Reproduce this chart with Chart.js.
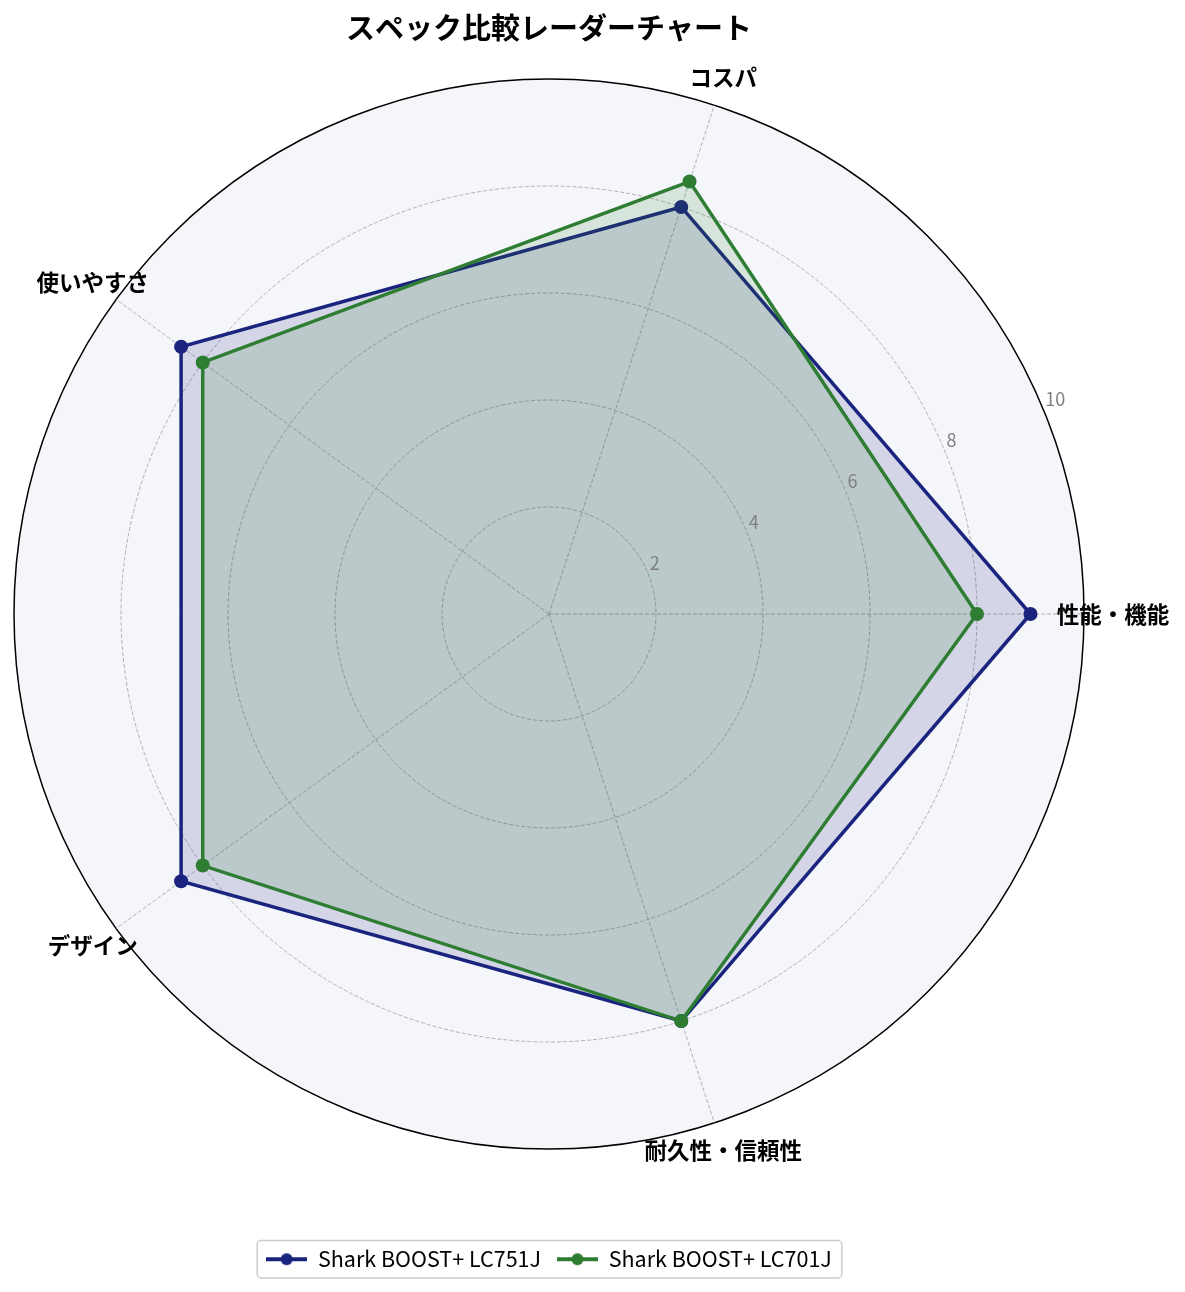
<!DOCTYPE html>
<html lang="ja">
<head>
<meta charset="utf-8">
<title>スペック比較レーダーチャート</title>
<script src="https://cdn.jsdelivr.net/npm/chart.js@4.4.0/dist/chart.umd.min.js"></script>
<style>
  html, body { margin: 0; padding: 0; background: #fff; }
  #wrap { width: 1185px; height: 1292px; position: relative; }
</style>
</head>
<body>
<div id="wrap"><canvas id="radarChart"></canvas></div>
<script>
// data (same order as the original chart: counter-clockwise from the right)
var categories = ['性能・機能', 'コスパ', '使いやすさ', 'デザイン', '耐久性・信頼性'];
var lc751j = [9, 8, 8.5, 8.5, 8];
var lc701j = [8, 8.5, 8, 8, 8];
var tickValues = [2, 4, 6, 8, 10];
var seriesNames = ['Shark BOOST+ LC751J', 'Shark BOOST+ LC701J'];
var seriesColors = ['#1a237e', '#2e7d32'];
var seriesFills = ['rgba(26, 35, 126, 0.15)', 'rgba(46, 125, 50, 0.15)'];

var FONT = '"Noto Sans CJK JP", "Noto Sans", sans-serif';

// Chart.js walks the axes clockwise, so flip everything after the first one
function ccw(arr) {
    return [arr[0]].concat(arr.slice(1).reverse());
}

// legend handle: a line with a dot in the middle
function legendIcon(color) {
    var c = document.createElement('canvas');
    c.width = 41;
    c.height = 14;
    var g = c.getContext('2d');
    g.strokeStyle = color;
    g.lineWidth = 4;
    g.beginPath();
    g.moveTo(0, 7);
    g.lineTo(41, 7);
    g.stroke();
    g.fillStyle = color;
    g.beginPath();
    g.arc(20.5, 7, 6, 0, Math.PI * 2);
    g.fill();
    return c;
}
var icons = [legendIcon(seriesColors[0]), legendIcon(seriesColors[1])];

// light fill inside the outer circle
var polarBackground = {
    id: 'polarBackground',
    beforeDraw: function (chart) {
        var r = chart.scales.r;
        var ctx = chart.ctx;
        ctx.save();
        ctx.fillStyle = '#f5f6fa';
        ctx.beginPath();
        ctx.arc(r.xCenter, r.yCenter, r.drawingArea, 0, Math.PI * 2);
        ctx.fill();
        ctx.restore();
    }
};

// tick labels at 22.5°, category labels centred outside the circle, legend frame
var radarText = {
    id: 'radarText',
    afterDraw: function (chart) {
        var r = chart.scales.r;
        var ctx = chart.ctx;
        ctx.save();

        ctx.font = '18px ' + FONT;
        ctx.fillStyle = '#808080';
        ctx.textAlign = 'left';
        ctx.textBaseline = 'alphabetic';
        var a = 22.5 * Math.PI / 180;
        tickValues.forEach(function (v) {
            var d = r.getDistanceFromCenterForValue(v);
            ctx.fillText(String(v), r.xCenter + d * Math.cos(a) + 2, r.yCenter - d * Math.sin(a) - 3);
        });

        ctx.font = 'bold 22.5px ' + FONT;
        ctx.fillStyle = '#000';
        ctx.textAlign = 'center';
        ctx.textBaseline = 'middle';
        chart.data.labels.forEach(function (label, i) {
            var p = r.getPointPosition(i, r.drawingArea + 29);
            ctx.fillText(label, p.x, p.y);
        });

        var boxes = chart.legend.legendHitBoxes;
        if (boxes && boxes.length) {
            var left = Infinity, right = -Infinity, top = Infinity, bottom = -Infinity;
            boxes.forEach(function (b) {
                left = Math.min(left, b.left);
                right = Math.max(right, b.left + b.width);
                top = Math.min(top, b.top);
                bottom = Math.max(bottom, b.top + b.height);
            });
            ctx.strokeStyle = '#cccccc';
            ctx.lineWidth = 1.5;
            ctx.beginPath();
            ctx.roundRect(left - 9, top - 8, right - left + 19, bottom - top + 16, 4);
            ctx.stroke();
        }
        ctx.restore();
    }
};

var config = {
    type: 'radar',
    data: {
        labels: ccw(categories),
        datasets: [
            {
                label: seriesNames[0],
                data: ccw(lc751j),
                borderColor: seriesColors[0],
                backgroundColor: seriesFills[0],
                borderWidth: 3.5,
                pointRadius: 7,
                pointBackgroundColor: seriesColors[0],
                pointBorderColor: seriesColors[0],
                pointBorderWidth: 0,
                fill: true,
                order: 1
            },
            {
                label: seriesNames[1],
                data: ccw(lc701j),
                borderColor: seriesColors[1],
                backgroundColor: seriesFills[1],
                borderWidth: 3.5,
                pointRadius: 7,
                pointBackgroundColor: seriesColors[1],
                pointBorderColor: seriesColors[1],
                pointBorderWidth: 0,
                fill: true,
                order: 0
            }
        ]
    },
    options: {
        responsive: true,
        maintainAspectRatio: false,
        animation: false,
        layout: { padding: { left: 14, right: 101, top: 0, bottom: 12 } },
        scales: {
            r: {
                min: 0,
                max: 10,
                startAngle: 90,
                ticks: { stepSize: 2, display: false },
                pointLabels: { display: false },
                grid: {
                    circular: true,
                    color: function (c) { return c.tick && c.tick.value === 10 ? '#000000' : '#a0a0a0'; },
                    lineWidth: function (c) { return c.tick && c.tick.value === 10 ? 1.5 : 0.8; }
                },
                border: {
                    dash: function (c) { return c.tick && c.tick.value === 10 ? [] : [4, 2]; }
                },
                angleLines: { color: '#a0a0a0', lineWidth: 0.8, borderDash: [4, 2] }
            }
        },
        plugins: {
            title: {
                display: true,
                text: 'スペック比較レーダーチャート',
                color: '#000',
                font: { family: FONT, size: 29, weight: 'bold' },
                padding: { top: 11, bottom: 15 }
            },
            legend: {
                position: 'bottom',
                title: { display: true, text: ' ', font: { size: 1 }, padding: { top: 64, bottom: 0 } },
                labels: {
                    font: { family: FONT, size: 21.5 },
                    color: '#000',
                    usePointStyle: true,
                    pointStyleWidth: 41,
                    boxHeight: 14,
                    padding: 16,
                    sort: function (a, b) { return a.datasetIndex - b.datasetIndex; },
                    generateLabels: function (chart) {
                        var items = Chart.defaults.plugins.legend.labels.generateLabels(chart);
                        items.forEach(function (it) { it.pointStyle = icons[it.datasetIndex]; });
                        return items;
                    }
                }
            },
            tooltip: { enabled: false }
        }
    },
    plugins: [polarBackground, radarText]
};

new Chart(document.getElementById('radarChart'), config);
</script>
</body>
</html>
